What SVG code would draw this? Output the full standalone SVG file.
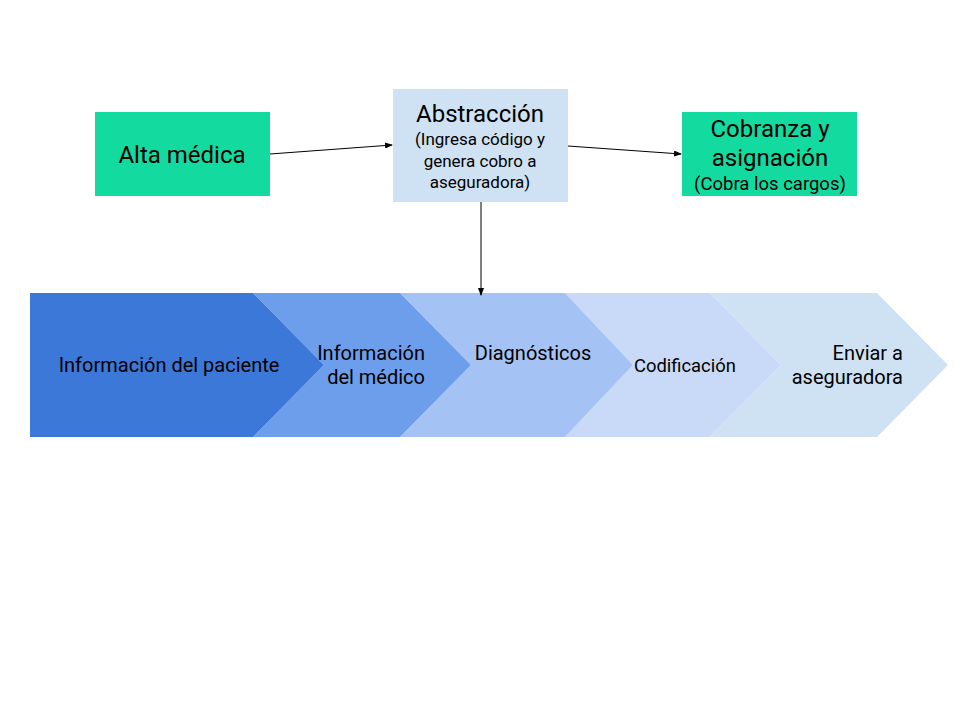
<svg xmlns="http://www.w3.org/2000/svg" width="960" height="720" viewBox="0 0 960 720">
<defs>
<marker id="ah" markerWidth="8" markerHeight="6" refX="7" refY="3" orient="auto" markerUnits="userSpaceOnUse">
<path d="M0,0 L8,3 L0,6 Z" fill="#000"/>
</marker>
<style>
text{font-family:Roboto,"Liberation Sans",sans-serif;fill:#000}
.big{font-size:24px}
.small{font-size:17px}
.lab{font-size:20px}
.conn{stroke:#000;stroke-width:1;fill:none}
</style>
</defs>
<rect width="960" height="720" fill="#fff"/>
<g id="chevrons">
<g id="step5"><polygon points="710,293 877,293 948,365 877,437 710,437 781,365" fill="#cfe2f3"/>
<text class="lab" x="903" y="360" text-anchor="end">Enviar a</text>
<text class="lab" x="903" y="384" text-anchor="end">aseguradora</text></g>
<g id="step4"><polygon points="565,293 710,293 781,365 710,437 565,437 633,365" fill="#c9daf8"/>
<text class="lab" x="634" y="372" style="font-size:18.4px">Codificación</text></g>
<g id="step3"><polygon points="400,293 565,293 633,365 565,437 400,437 471,365" fill="#a4c2f4"/>
<text class="lab" x="533" y="360" text-anchor="middle">Diagnósticos</text></g>
<g id="step2"><polygon points="253,293 400,293 471,365 400,437 253,437 324,365" fill="#6d9eeb"/>
<text class="lab" x="425" y="360" text-anchor="end">Información</text>
<text class="lab" x="425" y="384" text-anchor="end">del médico</text></g>
<g id="step1"><polygon points="30,293 253,293 324,365 253,437 30,437" fill="#3c78d8"/>
<text class="lab" x="169" y="372" text-anchor="middle">Información del paciente</text></g>
</g>
<g id="alta"><rect x="95" y="112" width="175" height="84" fill="#13dba0"/>
<text class="big" x="182" y="163" text-anchor="middle">Alta médica</text></g>
<g id="abstraccion"><rect x="393" y="89" width="175" height="113" fill="#cfe2f3"/>
<text class="big" x="480" y="122" text-anchor="middle">Abstracción</text>
<text class="small" x="480" y="145" text-anchor="middle">(Ingresa código y</text>
<text class="small" x="480" y="167" text-anchor="middle">genera cobro a</text>
<text class="small" x="480" y="188" text-anchor="middle">aseguradora)</text></g>
<g id="cobranza"><rect x="682" y="112" width="175" height="84" fill="#13dba0"/>
<text class="big" x="770" y="137" text-anchor="middle">Cobranza y</text>
<text class="big" x="770" y="166" text-anchor="middle">asignación</text>
<text class="small" x="770" y="190" text-anchor="middle" style="font-size:18.5px">(Cobra los cargos)</text></g>
<g id="connectors">
<line class="conn" x1="270" y1="154" x2="392" y2="145" marker-end="url(#ah)"/>
<line class="conn" x1="568" y1="146" x2="681" y2="154" marker-end="url(#ah)"/>
<line class="conn" x1="481" y1="202" x2="481" y2="295" marker-end="url(#ah)"/>
</g>
</svg>
